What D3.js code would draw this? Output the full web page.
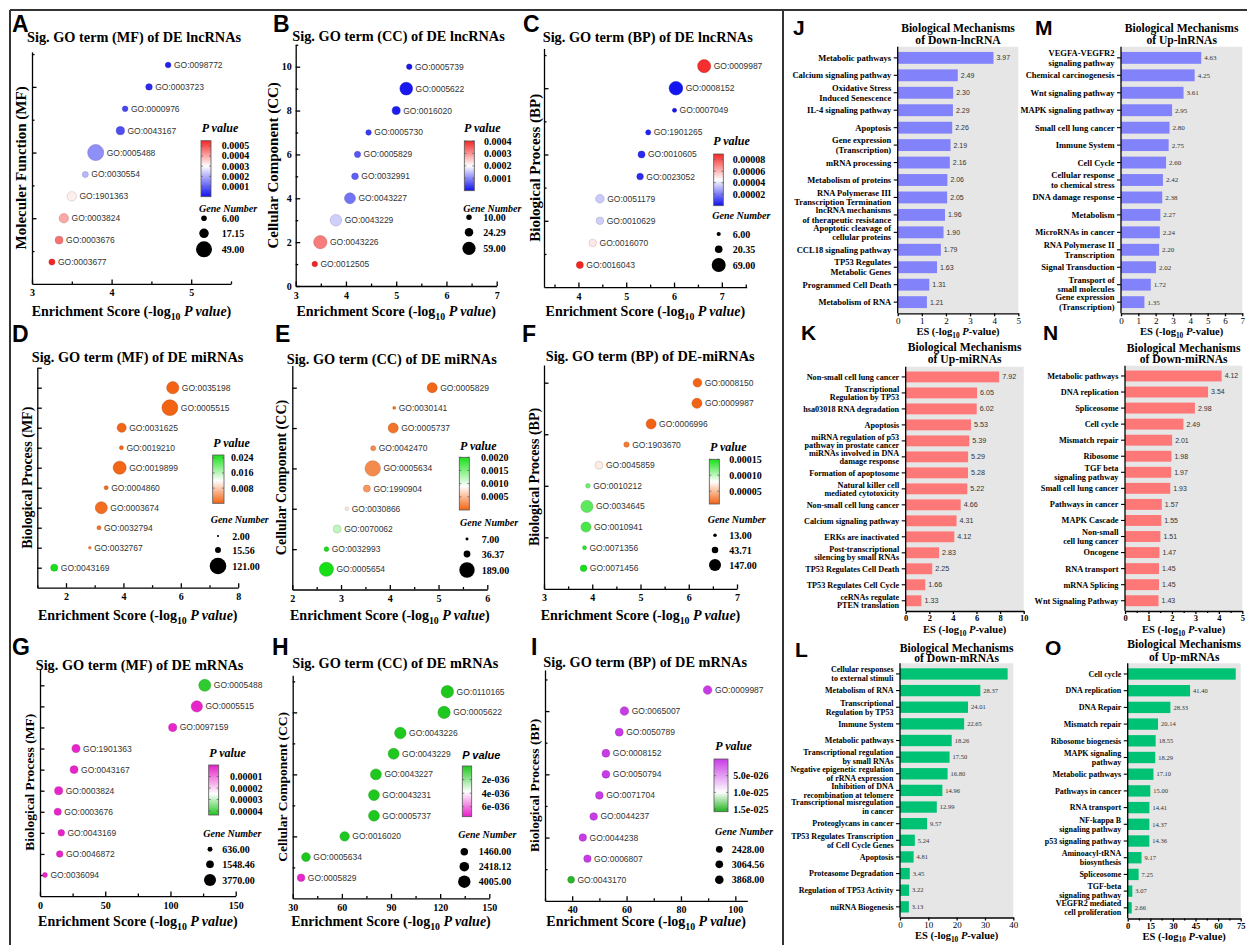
<!DOCTYPE html>
<html><head><meta charset="utf-8">
<script src="https://cdn.jsdelivr.net/npm/d3@7"></script>
<style>body{margin:0;background:#fff}</style>
</head><body>
<script>
// ================= DATA =================
// Scatter panels (top to bottom order)
const A_title="Sig. GO term (MF) of DE lncRNAs", A_ylab="Moleculer Function (MF)";
const A_terms=["GO:0098772","GO:0003723","GO:0000976","GO:0043167","GO:0005488","GO:0030554","GO:1901363","GO:0003824","GO:0003676","GO:0003677"];
const A_es=[4.71,4.47,4.17,4.11,3.80,3.67,3.50,3.40,3.34,3.25];
const A_genes=[6,8,6,13,49,7,17,17,12,7];
const A_p=[0.000019,0.000034,0.000068,0.000078,0.00016,0.00021,0.00032,0.00040,0.00046,0.00056];
const A_pTicks=[0.0005,0.0004,0.0003,0.0002,0.0001], A_pLabels=["0.0005","0.0004","0.0003","0.0002","0.0001"];
const A_sizes=[6,17.15,49], A_sizeLabels=["6.00","17.15","49.00"];

const B_title="Sig. GO term (CC) of DE lncRNAs", B_ylab="Cellular Component (CC)";
const B_terms=["GO:0005739","GO:0005622","GO:0016020","GO:0005730","GO:0005829","GO:0032991","GO:0043227","GO:0043229","GO:0043226","GO:0012505"];
const B_es=[5.26,5.20,5.00,4.45,4.23,4.18,4.08,3.80,3.49,3.38];
const B_genes=[10,55,22,10,13,15,40,45,59,10];
const B_p=[0.0000055,0.0000063,0.00001,0.000035,0.000059,0.000066,0.000083,0.00016,0.00032,0.00042];
const B_pTicks=[0.0004,0.0003,0.0002,0.0001], B_pLabels=["0.0004","0.0003","0.0002","0.0001"];
const B_sizes=[10,24.29,59], B_sizeLabels=["10.00","24.29","59.00"];

const C_title="Sig. GO term (BP) of DE lncRNAs", C_ylab="Biological Process (BP)";
const C_terms=["GO:0009987","GO:0008152","GO:0007049","GO:1901265","GO:0010605","GO:0023052","GO:0051179","GO:0010629","GO:0016070","GO:0016043"];
const C_es=[6.63,6.04,6.01,5.46,5.32,5.29,4.45,4.45,4.30,4.03];
const C_genes=[60,65,6,9,17,15,26,20,20,17];
const C_p=[0.000088,0.0000009,0.000001,0.0000035,0.0000048,0.0000051,0.000035,0.000036,0.00005,0.000093];
const C_pTicks=[0.00008,0.00006,0.00004,0.00002], C_pLabels=["0.00008","0.00006","0.00004","0.00002"];
const C_sizes=[6,20.35,69], C_sizeLabels=["6.00","20.35","69.00"];

const D_title="Sig. GO term (MF) of DE miRNAs", D_ylab="Biological Process (MF)";
const D_terms=["GO:0035198","GO:0005515","GO:0031625","GO:0019210","GO:0019899","GO:0004860","GO:0003674","GO:0032794","GO:0032767","GO:0043169"];
const D_es=[5.72,5.62,3.94,3.93,3.87,3.40,3.23,3.15,2.83,1.59];
const D_genes=[65,110,36,7,75,7,63,7,3,22];
const D_p=[0.0000019,0.0000024,0.000115,0.000117,0.000135,0.0004,0.00059,0.00071,0.0015,0.0257];
const D_pTicks=[0.024,0.016,0.008], D_pLabels=["0.024","0.016","0.008"];
const D_sizes=[2,15.56,121], D_sizeLabels=["2.00","15.56","121.00"];

const E_title="Sig. GO term (CC) of DE miRNAs", E_ylab="Cellular Component (CC)";
const E_terms=["GO:0005829","GO:0030141","GO:0005737","GO:0042470","GO:0005634","GO:1990904","GO:0030866","GO:0070062","GO:0032993","GO:0005654"];
const E_es=[4.87,4.09,4.07,3.66,3.65,3.53,3.12,2.92,2.70,2.70];
const E_genes=[80,7,80,20,189,39,10,51,17,156];
const E_p=[0.0000135,0.000081,0.000085,0.00022,0.00022,0.0003,0.00076,0.0012,0.002,0.002];
const E_pTicks=[0.0020,0.0015,0.0010,0.0005], E_pLabels=["0.0020","0.0015","0.0010","0.0005"];
const E_sizes=[7,36.37,189], E_sizeLabels=["7.00","36.37","189.00"];

const F_title="Sig. GO term (BP) of DE-miRNAs", F_ylab="Biological Process (BP)";
const F_terms=["GO:0008150","GO:0009987","GO:0006996","GO:1903670","GO:0045859","GO:0010212","GO:0034645","GO:0010941","GO:0071356","GO:0071456"];
const F_es=[6.18,6.17,5.22,4.71,4.14,3.91,3.89,3.87,3.84,3.82];
const F_genes=[76,102,102,29,65,22,147,102,16,44];
const F_p=[0.00000066,0.00000068,0.000006,0.0000195,0.000072,0.000123,0.000129,0.000135,0.000145,0.000151];
const F_pTicks=[0.00015,0.00010,0.00005], F_pLabels=["0.00015","0.00010","0.00005"];
const F_sizes=[13,43.71,147], F_sizeLabels=["13.00","43.71","147.00"];

const G_title="Sig. GO term (MF) of DE mRNAs", G_ylab="Biological Process (MF)";
const G_terms=["GO:0005488","GO:0005515","GO:0097159","GO:1901363","GO:0043167","GO:0003824","GO:0003676","GO:0043169","GO:0046872","GO:0036094"];
const G_es=[126.3,120.2,101.7,27.6,26.1,14.3,13.6,16.3,15.1,3.8];
const G_genes=[3770,3300,1700,1700,1650,1700,1350,1100,1100,636];
const G_p=[0.000042,0.0000008,0.0000008,0.0000008,0.0000008,0.0000008,0.0000008,0.0000008,0.0000008,0.0000008];
const G_pTicks=[0.00001,0.00002,0.00003,0.00004], G_pLabels=["0.00001","0.00002","0.00003","0.00004"];
const G_sizes=[636,1548.46,3770], G_sizeLabels=["636.00","1548.46","3770.00"];

const H_title="Sig. GO term (CC) of DE mRNAs", H_ylab="Cellular Component (CC)";
const H_terms=["GO:0110165","GO:0005622","GO:0043226","GO:0043229","GO:0043227","GO:0043231","GO:0005737","GO:0016020","GO:0005634","GO:0005829"];
const H_es=[124.4,122.4,95.7,91.6,80.8,79.6,79.6,61.7,38.1,35.1];
const H_genes=[4005,3900,3400,3100,3100,3050,3050,2300,2000,1460];
const H_p=[1e-38,1e-38,1e-38,1e-38,1e-38,1e-38,1e-38,1e-38,1e-38,7.3e-36];
const H_pTicks=[2e-36,4e-36,6e-36], H_pLabels=["2e-036","4e-036","6e-036"];
const H_sizes=[1460,2418.12,4005], H_sizeLabels=["1460.00","2418.12","4005.00"];

const I_title="Sig. GO term (BP) of DE mRNAs", I_ylab="Biological Process (BP)";
const I_terms=["GO:0009987","GO:0065007","GO:0050789","GO:0008152","GO:0050794","GO:0071704","GO:0044237","GO:0044238","GO:0006807","GO:0043170"];
const I_es=[89.8,59.2,57.3,52.4,52.4,50.0,47.9,43.9,45.6,39.6];
const I_genes=[3868,3800,3300,3200,3150,3050,3000,2900,2850,2428];
const I_p=[1e-28,1e-28,1e-28,1e-28,1e-28,1e-28,1e-28,1e-28,1e-28,1.55e-25];
const I_pTicks=[5e-26,1e-25,1.5e-25], I_pLabels=["5.0e-026","1.0e-025","1.5e-025"];
const I_sizes=[2428,3064.56,3868], I_sizeLabels=["2428.00","3064.56","3868.00"];

// Bar panels
const J_title=["Biological Mechanisms","of Down-lncRNA"];
const J_labels=["Metabolic pathways","Calcium signaling pathway","Oxidative Stress\nInduced Senescence","IL-4 signaling pathway","Apoptosis","Gene expression\n(Transcription)","mRNA processing","Metabolism of proteins","RNA Polymerase III\nTranscription Termination","lncRNA mechanisms\nof therapeutic resistance","Apoptotic cleavage of\ncellular proteins","CCL18 signaling pathway","TP53 Regulates\nMetabolic Genes","Programmed Cell Death","Metabolism of RNA"];
const J_values=[3.97,2.49,2.30,2.29,2.26,2.19,2.16,2.06,2.05,1.96,1.90,1.79,1.63,1.31,1.21];

const M_title=["Biological Mechanisms","of Up-lnRNAs"];
const M_labels=["VEGFA-VEGFR2\nsignaling pathway","Chemical carcinogenesis","Wnt signaling pathway","MAPK signaling pathway","Small cell lung cancer","Immune System","Cell Cycle","Cellular response\nto chemical stress","DNA damage response","Metabolism","MicroRNAs in cancer","RNA Polymerase II\nTranscription","Signal Transduction","Transport of\nsmall molecules","Gene expression\n(Transcription)"];
const M_values=[4.63,4.25,3.61,2.95,2.80,2.75,2.60,2.42,2.38,2.27,2.24,2.20,2.02,1.72,1.35];

const K_title=["Biological Mechanisms","of Up-miRNAs"];
const K_labels=["Non-small cell lung cancer","Transcriptional\nRegulation by TP53","hsa03018 RNA degradation","Apoptosis","miRNA regulation of p53\npathway in prostate cancer","miRNAs involved in DNA\ndamage response","Formation of apoptosome","Natural killer cell\nmediated cytotoxicity","Non-small cell lung cancer","Calcium signaling pathway","ERKs are inactivated","Post-transcriptional\nsilencing by small RNAs","TP53 Regulates Cell Death","TP53 Regulates Cell Cycle","ceRNAs regulate\nPTEN translation"];
const K_values=[7.92,6.05,6.02,5.53,5.39,5.29,5.28,5.22,4.66,4.31,4.12,2.83,2.25,1.66,1.33];

const N_title=["Biological Mechanisms","of Down-miRNAs"];
const N_labels=["Metabolic pathways","DNA replication","Spliceosome","Cell cycle","Mismatch repair","Ribosome","TGF beta\nsignaling pathway","Small cell lung cancer","Pathways in cancer","MAPK Cascade","Non-small\ncell lung cancer","Oncogene","RNA transport","mRNA Splicing","Wnt Signaling Pathway"];
const N_values=[4.12,3.54,2.98,2.49,2.01,1.98,1.97,1.93,1.57,1.55,1.51,1.47,1.45,1.45,1.43];

const L_title=["Biological Mechanisms","of Down-mRNAs"];
const L_labels=["Cellular responses\nto external stimuli","Metabolism of RNA","Transcriptional\nRegulation by TP53","Immune System","Metabolic pathways","Transcriptional regulation\nby small RNAs","Negative epigenetic regulation\nof rRNA expression","Inhibition of DNA\nrecombination at telomere","Transcriptional misregulation\nin cancer","Proteoglycans in cancer","TP53 Regulates Transcription\nof Cell Cycle Genes","Apoptosis","Proteasome Degradation","Regulation of TP53 Activity","miRNA Biogenesis"];
const L_values=[38.0,28.37,24.01,22.65,18.26,17.50,16.80,14.96,12.99,9.57,5.24,4.81,3.45,3.22,3.13];

const O_title=["Biological Mechanisms","of Up-mRNAs"];
const O_labels=["Cell cycle","DNA replication","DNA Repair","Mismatch repair","Ribosome biogenesis","MAPK signaling\npathway","Metabolic pathways","Pathways in cancer","RNA transport","NF-kappa B\nsignaling pathway","p53 signaling pathway","Aminoacyl-tRNA\nbiosynthesis","Spliceosome","TGF-beta\nsignaling pathway","VEGFR2 mediated\ncell proliferation"];
const O_values=[71.7,41.40,28.33,20.14,18.55,18.29,17.10,15.00,14.41,14.37,14.36,9.17,7.25,3.07,2.66];

// ================= LAYOUT / STYLE =================
const SERIF="'Liberation Serif','Times New Roman',serif";
const SANS="'Liberation Sans',Arial,sans-serif";
const BLUE_RED=["#1010f0","#ffffff","#f52525"];
const ORANGE_GREEN=["#f26414","#ffffff","#18e018"];

const scatterLayouts=[
 {id:"A",lx:12,ly:32,tx:27,ty:42,ylx:21,ylFs:15,x0:32,x1:231,xd:[3,5.5],xMaj:1,xMin:0.5,y0:283.9,yU:21.89,yMax:10.6,yMaj:3,yMin:1.5,yLab:false,xlY:316,
  pT:[201.7,131.7],bar:{x:201,w:10,top:140.7,bot:196.7,lo:0,hi:0.00055,inv:false},mid:0.0003,cols:BLUE_RED,tkX:221.7,
  gT:[199,212],sCx:204,sCy:[218.3,233.3,249.3],sLx:221.7,rMax:8,
  d:{title:A_title,ylab:A_ylab,terms:A_terms,es:A_es,genes:A_genes,p:A_p,pt:A_pTicks,pl:A_pLabels,sz:A_sizes,szl:A_sizeLabels}},
 {id:"B",lx:273,ly:32,tx:292.3,ty:41,ylx:273,ylFs:15,x0:295.7,x1:496.7,xd:[3,7],xMaj:1,xMin:0.5,y0:286,yU:21.93,yMax:11,yMaj:2,yMin:1,yLab:true,xlY:316,
  pT:[464,131.7],bar:{x:464.3,w:10,top:141,bot:190.7,lo:0,hi:0.0004,inv:false},mid:0.0002,cols:BLUE_RED,tkX:484,
  gT:[463.3,211.7],sCx:469,sCy:[217.3,232.3,248.3],sLx:483.3,rMax:6.6,
  d:{title:B_title,ylab:B_ylab,terms:B_terms,es:B_es,genes:B_genes,p:B_p,pt:B_pTicks,pl:B_pLabels,sz:B_sizes,szl:B_sizeLabels}},
 {id:"C",lx:523,ly:32,tx:542.7,ty:42,ylx:535,ylFs:15,x0:544,x1:746.7,xd:[3.28,7.52],xMaj:1,xMin:0.5,y0:287.1,yU:22.1,yMax:10.8,yMaj:3,yMin:1.5,yLab:false,xlY:316,
  pT:[713.3,145],bar:{x:713.7,w:9.6,top:154,bot:205.7,lo:0,hi:0.00009,inv:false},mid:0.000045,cols:BLUE_RED,tkX:732.7,
  gT:[712.3,219.3],sCx:718.7,sCy:[234,249.3,265],sLx:732.7,rMax:7,
  d:{title:C_title,ylab:C_ylab,terms:C_terms,es:C_es,genes:C_genes,p:C_p,pt:C_pTicks,pl:C_pLabels,sz:C_sizes,szl:C_sizeLabels}},
 {id:"D",lx:12,ly:342,tx:31.7,ty:362,ylx:27.5,ylFs:14,x0:37.3,x1:238.2,xd:[1,8],xMaj:2,xMin:1,y0:587.7,yU:20,yMax:11,yMaj:1,yMin:0,yLab:false,xlY:620,
  pT:[213.3,446.7],bar:{x:212.7,w:11.3,top:455,bot:503.3,lo:0,hi:0.0255,inv:false},mid:0.012,cols:ORANGE_GREEN,tkX:231,
  gT:[210.7,523.3],sCx:218,sCy:[536,550,566],sLx:232.3,rMax:8.3,
  d:{title:D_title,ylab:D_ylab,terms:D_terms,es:D_es,genes:D_genes,p:D_p,pt:D_pTicks,pl:D_pLabels,sz:D_sizes,szl:D_sizeLabels}},
 {id:"E",lx:275,ly:342,tx:286.7,ty:364,ylx:281,ylFs:14,x0:292.3,x1:487.3,xd:[2,6],xMaj:1,xMin:0.5,y0:589.5,yU:20.18,yMax:11.1,yMaj:2,yMin:0,yLab:false,xlY:620,
  pT:[460,450],bar:{x:459.3,w:10,top:457.3,bot:510,lo:0,hi:0.002,inv:false},mid:0.0009,cols:ORANGE_GREEN,tkX:481,
  gT:[460,525.7],sCx:467,sCy:[539,554,570],sLx:481.7,rMax:7.7,
  d:{title:E_title,ylab:E_ylab,terms:E_terms,es:E_es,genes:E_genes,p:E_p,pt:E_pTicks,pl:E_pLabels,sz:E_sizes,szl:E_sizeLabels}},
 {id:"F",lx:522,ly:342,tx:545.7,ty:361,ylx:534,ylFs:14,x0:544,x1:737,xd:[3,7],xMaj:1,xMin:0.5,y0:588.9,yU:20.62,yMax:10.86,yMaj:2.5,yMin:0,yLab:false,xlY:620,
  pT:[710,450.7],bar:{x:709.3,w:10,top:459.3,bot:504,lo:0.00001,hi:0.00015,inv:false},mid:0.00008,cols:ORANGE_GREEN,tkX:729.3,
  gT:[707.7,522.7],sCx:715,sCy:[535.3,550,565],sLx:729.3,rMax:6,
  d:{title:F_title,ylab:F_ylab,terms:F_terms,es:F_es,genes:F_genes,p:F_p,pt:F_pTicks,pl:F_pLabels,sz:F_sizes,szl:F_sizeLabels}},
 {id:"G",lx:12,ly:655,tx:35.7,ty:670,ylx:29,ylFs:13.5,x0:40,x1:235.7,xd:[0,150],xMaj:50,xMin:25,y0:896.1,yU:21.08,yMax:10.8,yMaj:1,yMin:0,yLab:false,xlY:926,
  pT:[209.3,756.7],bar:{x:208.7,w:10,top:765,bot:815,lo:0,hi:0.0000434,inv:true},mid:0.000025,cols:["#e61ec8","#ffffff","#1ec81e"],tkX:230,
  gT:[203.3,837.3],sCx:210,sCy:[849.3,864.3,880],sLx:222.3,rMax:6,
  d:{title:G_title,ylab:G_ylab,terms:G_terms,es:G_es,genes:G_genes,p:G_p,pt:G_pTicks,pl:G_pLabels,sz:G_sizes,szl:G_sizeLabels}},
 {id:"H",lx:272,ly:655,tx:292.3,ty:668,ylx:282,ylFs:13.5,x0:292.7,x1:489.3,xd:[30,150],xMaj:30,xMin:15,y0:898.4,yU:20.67,yMax:10.8,yMaj:3,yMin:1.5,yLab:false,xlY:926,
  pT:[462.3,759],bar:{x:462.3,w:9.4,top:766,bot:816.7,lo:0,hi:7.46e-36,inv:true},mid:3.8e-36,cols:["#1ec81e","#ffffff","#e61ec8"],tkX:481.7,pSans:true,
  gT:[458.3,838.3],sCx:464.3,sCy:[851.7,866.7,881.7],sLx:478.7,rMax:6.2,
  d:{title:H_title,ylab:H_ylab,terms:H_terms,es:H_es,genes:H_genes,p:H_p,pt:H_pTicks,pl:H_pLabels,sz:H_sizes,szl:H_sizeLabels}},
 {id:"I",lx:531,ly:655,tx:543.3,ty:667,ylx:534,ylFs:13.5,x0:545,x1:747.3,xd:[30,104.4],xMaj:20,xMin:10,y0:900.8,yU:21.08,yMax:10.95,yMaj:3,yMin:1.5,yLab:false,xlY:926,
  pT:[715.3,750],bar:{x:714,w:14,top:759,bot:811.7,lo:0,hi:1.58e-25,inv:true},mid:1e-25,cols:["#c83ce6","#ffffff","#1eb41e"],tkX:733.3,
  gT:[715,835],sCx:719.3,sCy:[849.3,864.3,879.7],sLx:731.7,rMax:4.3,
  d:{title:I_title,ylab:I_ylab,terms:I_terms,es:I_es,genes:I_genes,p:I_p,pt:I_pTicks,pl:I_pLabels,sz:I_sizes,szl:I_sizeLabels}}
];

const barLayouts=[
 {id:"J",lx:793,ly:35,x0:897.7,x1:1018.3,y0:46.7,y1:313.3,xMax:5,tk:1,tkMin:0,tyy:[31.7,44],xlY:335,col:"#8282fa",vFont:SANS,vFs:7,lFs:8.5,lh:9.6,tkBold:false,tkFs:9,
  d:{title:J_title,labels:J_labels,values:J_values}},
 {id:"M",lx:1035,ly:35,x0:1121,x1:1242.3,y0:46.7,y1:313.3,xMax:7,tk:1,tkMin:0,tyy:[31.7,44],xlY:335,col:"#8282fa",vFont:SERIF,vFs:7,lFs:8.5,lh:9.6,tkBold:false,tkFs:9,
  d:{title:M_title,labels:M_labels,values:M_values}},
 {id:"K",lx:801,ly:340,x0:905.7,x1:1023.7,y0:366.7,y1:611,xMax:10,tk:2,tkMin:0,tyy:[351,362.7],xlY:633,col:"#ff7878",vFont:SANS,vFs:7.2,lFs:8.2,lh:7.9,tkBold:true,tkFs:8.5,
  d:{title:K_title,labels:K_labels,values:K_values}},
 {id:"N",lx:1043,ly:340,x0:1125,x1:1242.3,y0:365.7,y1:611,xMax:5,tk:1,tkMin:0.5,tyy:[351.7,363.3],xlY:633,col:"#ff7878",vFont:SANS,vFs:7,lFs:8.3,lh:8.6,tkBold:true,tkFs:8.5,
  d:{title:N_title,labels:N_labels,values:N_values}},
 {id:"L",lx:795,ly:657,x0:900,x1:1013.3,y0:663.3,y1:917.5,xMax:40,tk:10,tkMin:0,tyy:[651.7,662.3],xlY:939,col:"#00c275",vFont:SERIF,vFs:6.5,lFs:8,lh:9,tkBold:false,tkFs:9,
  d:{title:L_title,labels:L_labels,values:L_values}},
 {id:"O",lx:1045,ly:655,x0:1127.7,x1:1240.7,y0:663.3,y1:918.5,xMax:75,tk:15,tkMin:7.5,tyy:[648.3,661],xlY:939.5,col:"#00c275",vFont:SERIF,vFs:6.5,lFs:8,lh:9,tkBold:true,tkFs:8.5,
  d:{title:O_title,labels:O_labels,values:O_values}}
];

// ================= DRAW =================
const svg=d3.select("body").append("svg").attr("width",1247).attr("height",945);
const defs=svg.append("defs");

function tickVals(lo,hi,step){const out=[];for(let k=Math.ceil(lo/step-1e-9);k*step<=hi+1e-9;k++)out.push(+(k*step).toFixed(8));return out;}
const numFmt=v=>String(+v.toFixed(6));

function styleAxis(sel,fs,bold,family){
  sel.selectAll(".domain,.tick line").attr("stroke","#000").attr("stroke-width",1.3);
  sel.selectAll("text").attr("fill","#000");
  sel.attr("font-family",family||SERIF).attr("font-size",fs).attr("font-weight",bold?"bold":"normal");
}

function esLabel(g,cx,y,fs,isBar){
  const t=g.append("text").attr("x",cx).attr("y",y).attr("text-anchor","middle")
    .attr("font-family",SERIF).attr("font-weight","bold").attr("font-size",fs).attr("fill","#000");
  t.append("tspan").text(isBar?"ES (-log":"Enrichment Score (-log");
  t.append("tspan").text("10").attr("font-size",fs*0.7).attr("dy",fs*0.25);
  t.append("tspan").text(" ").attr("dy",-fs*0.25);
  t.append("tspan").text(isBar?"P":"P value").attr("font-style","italic");
  t.append("tspan").text(isBar?"-value)":")");
}

function drawScatter(L){
  const D=L.d, g=svg.append("g");
  const x=d3.scaleLinear().domain(L.xd).range([L.x0,L.x1]);
  const yTop=L.y0-L.yU*L.yMax;
  const y=d3.scaleLinear().domain([0,L.yMax]).range([L.y0,yTop]);
  const r=d3.scaleSqrt().domain([0,D.sz[2]]).range([0,L.rMax]);
  const b=L.bar;
  const bs=d3.scaleLinear().domain([b.lo,b.hi]).range(b.inv?[b.top,b.bot]:[b.bot,b.top]);
  const col=d3.scaleLinear().domain([b.lo,L.mid,b.hi]).range(L.cols).clamp(true);

  g.append("text").attr("x",L.lx).attr("y",L.ly).text(L.id).attr("font-family",SANS).attr("font-weight","bold").attr("font-size",23);
  g.append("text").attr("x",L.tx).attr("y",L.ty).text(D.title).attr("font-family",SERIF).attr("font-weight","bold").attr("font-size",14.3);

  // axes
  const xMaj=tickVals(L.xd[0],L.xd[1],L.xMaj);
  const xMin=L.xMin?tickVals(L.xd[0],L.xd[1],L.xMin).filter(v=>!xMaj.some(m=>Math.abs(m-v)<1e-9)):[];
  const gx1=g.append("g").attr("transform",`translate(0,${L.y0})`).call(d3.axisBottom(x).tickValues(xMin).tickSize(-2.5).tickFormat(""));
  gx1.select(".domain").remove(); styleAxis(gx1,10,true);
  const gx=g.append("g").attr("transform",`translate(0,${L.y0})`).call(d3.axisBottom(x).tickValues(xMaj).tickSizeInner(-4.5).tickSizeOuter(0).tickPadding(5.5).tickFormat(numFmt));
  styleAxis(gx,10,true);
  const yMaj=tickVals(L.yLab?0:L.yMaj,L.yMax,L.yMaj).filter(v=>L.yLab||v>0);
  const yMin=L.yMin?tickVals(L.yMin,L.yMax,L.yMin).filter(v=>!yMaj.some(m=>Math.abs(m-v)<1e-9)):[];
  const gy1=g.append("g").attr("transform",`translate(${L.x0},0)`).call(d3.axisLeft(y).tickValues(yMin).tickSize(-2.5).tickFormat(""));
  gy1.select(".domain").remove(); styleAxis(gy1,10,true);
  const gy=g.append("g").attr("transform",`translate(${L.x0},0)`).call(d3.axisLeft(y).tickValues(yMaj).tickSizeInner(-4.5).tickSizeOuter(0).tickPadding(4).tickFormat(L.yLab?numFmt:""));
  styleAxis(gy,10,true);

  esLabel(g,(L.x0+L.x1)/2,L.xlY,14,false);
  g.append("text").attr("transform",`translate(${L.ylx},${(L.y0+yTop)/2}) rotate(-90)`).attr("text-anchor","middle").attr("dy","0.35em")
    .text(D.ylab).attr("font-family",SERIF).attr("font-weight","bold").attr("font-size",L.ylFs);

  // points
  const n=D.terms.length;
  const pts=D.terms.map((t,i)=>({t,es:D.es[i],gn:D.genes[i],p:D.p[i],yy:n-i}));
  const pg=g.append("g");
  pg.selectAll("circle").data(pts).join("circle")
    .attr("cx",d=>x(d.es)).attr("cy",d=>y(d.yy)).attr("r",d=>r(d.gn))
    .attr("fill",d=>col(d.p)).attr("stroke",d=>d3.color(col(d.p)).darker(0.7)).attr("stroke-width",0.5);
  pg.selectAll("text").data(pts).join("text")
    .attr("x",d=>x(d.es)+r(d.gn)+3).attr("y",d=>y(d.yy)).attr("dy","0.35em").text(d=>d.t)
    .attr("font-family",SANS).attr("font-size",8.5).attr("fill","#333");

  // colour legend
  g.append("text").attr("x",L.pT[0]).attr("y",L.pT[1]).attr("font-family",L.pSans?SANS:SERIF).attr("font-weight","bold")
    .attr("font-style","italic").attr("font-size",L.pSans?11:12).text("P value");
  const gid="grad"+L.id;
  const gr=defs.append("linearGradient").attr("id",gid).attr("x1",0).attr("y1",0).attr("x2",0).attr("y2",1);
  for(let k=0;k<=40;k++){const t=k/40;const v=bs.invert(b.top+t*(b.bot-b.top));gr.append("stop").attr("offset",t).attr("stop-color",col(v));}
  g.append("rect").attr("x",b.x).attr("y",b.top).attr("width",b.w).attr("height",b.bot-b.top).attr("fill",`url(#${gid})`).attr("stroke","#555").attr("stroke-width",0.8);
  D.pt.forEach((v,i)=>{
    const yy=bs(v);
    g.append("line").attr("x1",b.x).attr("x2",b.x+2).attr("y1",yy).attr("y2",yy).attr("stroke","#555").attr("stroke-width",0.7);
    g.append("line").attr("x1",b.x+b.w-2).attr("x2",b.x+b.w).attr("y1",yy).attr("y2",yy).attr("stroke","#555").attr("stroke-width",0.7);
    g.append("text").attr("x",L.tkX).attr("y",yy).attr("dy","0.35em").text(D.pl[i]).attr("font-family",SERIF).attr("font-weight","bold").attr("font-size",10);
  });
  // size legend
  g.append("text").attr("x",L.gT[0]).attr("y",L.gT[1]).attr("font-family",SERIF).attr("font-weight","bold").attr("font-style","italic").attr("font-size",10).text("Gene Number");
  D.sz.forEach((v,i)=>{
    g.append("circle").attr("cx",L.sCx).attr("cy",L.sCy[i]).attr("r",r(v)).attr("fill","#000");
    g.append("text").attr("x",L.sLx).attr("y",L.sCy[i]).attr("dy","0.35em").text(D.szl[i]).attr("font-family",SERIF).attr("font-weight","bold").attr("font-size",10);
  });
}

function drawBars(L){
  const D=L.d, g=svg.append("g");
  const x=d3.scaleLinear().domain([0,L.xMax]).range([L.x0,L.x1]);
  const y=d3.scaleBand().domain(d3.range(D.values.length)).range([L.y0,L.y1]).paddingInner(0.32).paddingOuter(0.3);
  g.append("text").attr("x",L.lx).attr("y",L.ly).text(L.id).attr("font-family",SANS).attr("font-weight","bold").attr("font-size",21);
  g.append("rect").attr("x",L.x0).attr("y",L.y0).attr("width",L.x1-L.x0).attr("height",L.y1-L.y0).attr("fill","#e6e6e6");
  const cx=(L.x0+L.x1)/2;
  D.title.forEach((t,i)=>g.append("text").attr("x",cx).attr("y",L.tyy[i]).attr("text-anchor","middle").text(t)
    .attr("font-family",SERIF).attr("font-weight","bold").attr("font-size",11.6));
  g.selectAll("rect.bar").data(D.values).join("rect").attr("class","bar")
    .attr("x",L.x0).attr("y",(d,i)=>y(i)).attr("width",d=>x(d)-L.x0).attr("height",y.bandwidth()).attr("fill",L.col);
  const fmt=d3.format(".2f");
  g.selectAll("text.val").data(D.values.map((v,i)=>({v,i})).filter(d=>x(d.v)+3+fmt(d.v).length*L.vFs*0.55<L.x1)).join("text").attr("class","val")
    .attr("x",d=>x(d.v)+3).attr("y",d=>y(d.i)+y.bandwidth()/2).attr("dy","0.35em").text(d=>fmt(d.v))
    .attr("font-family",L.vFont).attr("font-size",L.vFs).attr("fill","#333");
  // y axis
  g.append("line").attr("x1",L.x0).attr("x2",L.x0).attr("y1",L.y0).attr("y2",L.y1).attr("stroke","#000").attr("stroke-width",1.3);
  D.labels.forEach((lab,i)=>{
    const yc=y(i)+y.bandwidth()/2;
    g.append("line").attr("x1",L.x0-4).attr("x2",L.x0).attr("y1",yc).attr("y2",yc).attr("stroke","#000").attr("stroke-width",1.1);
    const lines=lab.split("\n"), lh=L.lh;
    const t=g.append("text").attr("text-anchor","end").attr("font-family",SERIF).attr("font-weight","bold").attr("font-size",L.lFs);
    lines.forEach((ln,k)=>t.append("tspan").attr("x",L.x0-6.5).attr("y",yc+(k-(lines.length-1)/2)*lh).attr("dy","0.35em").text(ln));
  });
  // x axis
  const maj=tickVals(0,L.xMax,L.tk);
  if(L.tkMin){const mn=tickVals(0,L.xMax,L.tkMin).filter(v=>!maj.some(m=>Math.abs(m-v)<1e-9));
    const a=g.append("g").attr("transform",`translate(0,${L.y1})`).call(d3.axisBottom(x).tickValues(mn).tickSize(2).tickFormat(""));
    a.select(".domain").remove(); styleAxis(a,L.tkFs,L.tkBold);}
  const ax=g.append("g").attr("transform",`translate(0,${L.y1})`).call(d3.axisBottom(x).tickValues(maj).tickSizeInner(3).tickSizeOuter(0).tickPadding(1).tickFormat(numFmt));
  styleAxis(ax,L.tkFs,L.tkBold);
  esLabel(g,cx,L.xlY,10.5,true);
}

scatterLayouts.forEach(drawScatter);
barLayouts.forEach(drawBars);

// frame lines
const fr=svg.append("g").attr("stroke","#333").attr("stroke-width",2);
fr.append("line").attr("x1",10).attr("x2",1247).attr("y1",10).attr("y2",10);
fr.append("line").attr("x1",10).attr("x2",10).attr("y1",10).attr("y2",945);
fr.append("line").attr("x1",783).attr("x2",783).attr("y1",10).attr("y2",945);
</script>
</body></html>
